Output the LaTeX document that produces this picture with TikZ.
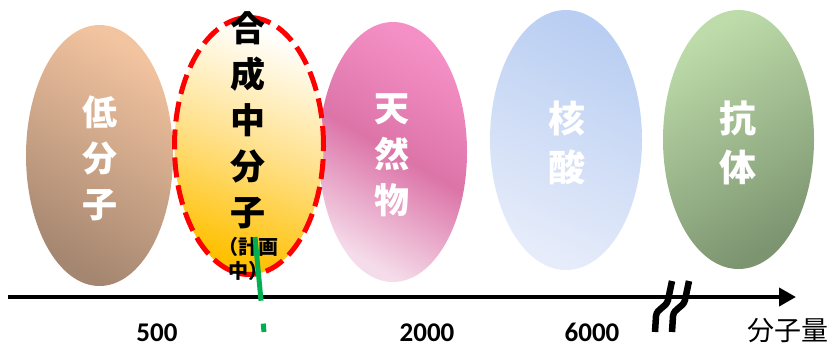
\documentclass[tikz,border=0pt]{standalone}
\usepackage{fontspec}
\setmainfont{Carlito}
\newfontfamily\jp{Noto Sans CJK JP}
\usetikzlibrary{shapes.geometric,arrows.meta}
\definecolor{peachT}{HTML}{F3C4A0}
\definecolor{peachB}{HTML}{A58670}
\definecolor{orangeB}{HTML}{FFC000}
\definecolor{orangeM}{HTML}{FFE18C}
\definecolor{pinkT}{HTML}{F590C6}
\definecolor{pinkM}{HTML}{DC74A8}
\definecolor{pinkB}{HTML}{F5DCEA}
\definecolor{blueT}{HTML}{B9CEF2}
\definecolor{blueB}{HTML}{E6ECFA}
\definecolor{greenT}{HTML}{BEDCAA}
\definecolor{greenB}{HTML}{7C9470}
\definecolor{dashred}{HTML}{FF0000}
\definecolor{markgreen}{HTML}{00B050}
\begin{document}
\begin{tikzpicture}[x=1pt,y=-1pt,
  blob/.style={ellipse, inner sep=0pt},
  vlabel/.style={font=\jp\bfseries\fontsize{35}{46}\selectfont, align=center, inner sep=0pt},
  num/.style={font=\bfseries\fontsize{27}{30}\selectfont, anchor=base, inner sep=0pt},
  brk/.style={line width=6.5pt}]
\path[use as bounding box] (0,0) rectangle (837,348);
% ellipses
\node[blob, minimum width=147pt, minimum height=261pt, top color=peachT, bottom color=peachB, shading angle=-30] (e1) at (99.5,155.5) {};
\node[blob, minimum width=148pt, minimum height=260pt, top color=pinkT, bottom color=pinkB, middle color=pinkM, shading angle=-30] (e3) at (393,152) {};
\node[blob, minimum width=152pt, minimum height=260pt, top color=blueT, bottom color=blueB, shading angle=-25] (e4) at (566,140) {};
\node[blob, minimum width=151pt, minimum height=259pt, top color=greenT, bottom color=greenB, shading angle=30] (e5) at (738.5,139.5) {};
\node[blob, minimum width=149pt, minimum height=257pt, top color=white, bottom color=orangeB, middle color=orangeM, shading angle=-20, draw=dashred, line width=5pt, dash pattern=on 20pt off 8pt] (e2) at (249,146) {};
% labels in ellipses
\node[vlabel, text=white] (t1) at (100,158) {低\\分\\子};
\node[vlabel, text=white] (t3) at (392,155) {天\\然\\物};
\node[vlabel, text=white, font=\jp\bfseries\fontsize{37}{49}\selectfont] (t4) at (567,142.5) {核\\酸};
\node[vlabel, text=white, font=\jp\bfseries\fontsize{37}{49}\selectfont] (t5) at (738,142.5) {抗\\体};
\node[vlabel, text=black] (t2) at (248,120.5) {合\\成\\中\\分\\子};
\node[font=\jp\bfseries\fontsize{20}{24}\selectfont, align=center, inner sep=0pt] (t2b) at (248,259) {（計画\\中）};
% axis
\coordinate (axL) at (8,297);
\coordinate (axR) at (796,297);
\draw[line width=4pt, -{Triangle[length=17pt,width=18pt]}] (axL) -- (axR);
% break marks
\coordinate (b1a) at (672,281);
\coordinate (b1b) at (655,332);
\coordinate (b2a) at (689,281);
\coordinate (b2b) at (672,332);
\draw[brk] (b1a) -- (668,300) .. controls (666,308) and (657,308) .. (656,316) -- (b1b);
\draw[brk] (b2a) -- (685,300) .. controls (683,308) and (674,308) .. (673,316) -- (b2b);
% axis label
\node[font=\jp\fontsize{27}{30}\selectfont, inner sep=0pt] (unit) at (788,331) {分子量};
% numbers
\node[num] (n500) at (157,341) {500};
\node[num] (n2000) at (427,341) {2000};
\node[num] (n6000) at (592,341) {6000};
% green marker
\coordinate (g1) at (255,237);
\coordinate (g2) at (264,332);
\draw[markgreen, line width=5pt, dash pattern=on 64pt off 23pt] (g1) -- (g2);
\end{tikzpicture}
\end{document}
